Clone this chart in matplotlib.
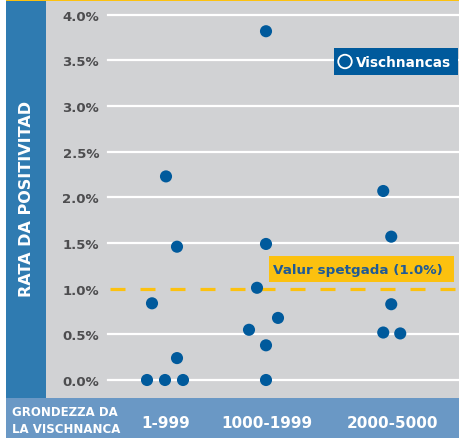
import matplotlib
matplotlib.use("Agg")
import matplotlib.pyplot as plt
from matplotlib.patches import Rectangle

plt.rcParams['font.family'] = ['DejaVu Sans']
plt.rcParams['lines.scale_dashes'] = False

# ---- data ----
categories = ["1-999", "1000-1999", "2000-5000"]
values_g1 = [0.0, 0.0, 0.0, 0.24, 0.84, 1.46, 2.23]
values_g2 = [0.0, 0.38, 0.55, 0.68, 1.01, 1.49, 3.82]
values_g3 = [0.51, 0.52, 0.83, 1.57, 2.07]
threshold = 1.0
ytick_values = [0.0, 0.5, 1.0, 1.5, 2.0, 2.5, 3.0, 3.5, 4.0]
ytick_labels = ["0.0%", "0.5%", "1.0%", "1.5%", "2.0%", "2.5%", "3.0%", "3.5%", "4.0%"]
y_title = "RATA DA POSITIVITAD"
x_title = "GRONDEZZA DA\nLA VISCHNANCA"
legend_label = "Vischnancas"
threshold_label = "Valur spetgada (1.0%)"

# ---- layout (beeswarm offsets in pixels) ----
cat_pos = [0.0, 1.0, 2.24]
unit_px = 101.0
jit_g1 = [-19, -1, 17, 11, -14, 11, 0]
jit_g2 = [-1, -1, -18, 11, -10, -1, -1]
jit_g3 = [8, -9, -1, -1, -9]

W, H = 463, 439
fig = plt.figure(figsize=(W / 100, H / 100), dpi=100)
fig.patch.set_facecolor("white")

def fx(x):
    return x / W

def fy(y):
    return 1 - y / H

GRAY = "#d1d2d4"
DOT = "#005a9c"
YEL = "#fcc10f"
LEFTBLUE = "#2f7bb1"
BOTBLUE = "#6a98c5"

# background bands (below axes)
fig.add_artist(Rectangle((fx(6), fy(399)), fx(459) - fx(6), fy(0) - fy(399),
                         transform=fig.transFigure, facecolor=GRAY, edgecolor="none", zorder=0))
fig.add_artist(Rectangle((fx(6), fy(399)), fx(46) - fx(6), fy(0) - fy(399),
                         transform=fig.transFigure, facecolor=LEFTBLUE, edgecolor="none", zorder=0.5))
fig.add_artist(Rectangle((fx(6), fy(439)), fx(459) - fx(6), fy(399) - fy(439),
                         transform=fig.transFigure, facecolor=BOTBLUE, edgecolor="none", zorder=0.5))

ax = fig.add_axes([fx(46), fy(399), fx(459) - fx(46), fy(1) - fy(399)])
ax.set_zorder(2)
ax.set_facecolor("none")
for s in ax.spines.values():
    s.set_visible(False)

# top yellow rule
fig.add_artist(Rectangle((fx(6), fy(2)), fx(459) - fx(6), fy(0) - fy(2),
                         transform=fig.transFigure, facecolor=YEL, edgecolor="none", zorder=3))

px_per_pct = 91.3
ax.set_ylim(-(399 - 381) / px_per_pct, (381 - 1) / px_per_pct)
ax.set_xlim((46 - 166) / unit_px, (459 - 166) / unit_px)

# gridlines
gx0 = (108 - 46) / (459 - 46)
gx1 = (458 - 46) / (459 - 46)
for v in ytick_values:
    if v == threshold:
        continue
    ax.axhline(v, xmin=gx0, xmax=gx1, color="white", lw=1.6, zorder=1)

# threshold dashed line
x_start = (110 - 166) / unit_px
x_end = (458 - 166) / unit_px
ax.plot([x_start, x_end], [threshold, threshold], color=YEL, lw=2.3,
        dashes=(10.8, 10.8), solid_capstyle="butt", dash_capstyle="butt", zorder=2)

# points
for pos, vals, jit in zip(cat_pos, [values_g1, values_g2, values_g3], [jit_g1, jit_g2, jit_g3]):
    xs = [pos + j / unit_px for j in jit]
    ax.scatter(xs, vals, s=76, color=DOT, edgecolors="none", zorder=4)

# ticks
ax.set_yticks(ytick_values)
ax.set_yticklabels(ytick_labels)
ax.tick_params(axis="y", length=0, pad=-38.2, labelsize=9.5, labelcolor="#4d4d4f")
for t in ax.get_yticklabels():
    t.set_fontweight("bold")
    t.set_horizontalalignment("right")

ax.set_xticks(cat_pos)
ax.set_xticklabels(categories)
ax.tick_params(axis="x", length=0, pad=12.5, labelsize=11, labelcolor="white")
for t in ax.get_xticklabels():
    t.set_fontweight("bold")

# titles
fig.text(fx(26.5), fy(199), y_title, rotation=90, ha="center", va="center",
         color="white", fontsize=11.5, fontweight="bold", zorder=5)
fig.text(fx(12), fy(421), x_title, ha="left", va="center", color="white",
         fontsize=8.5, fontweight="bold", linespacing=1.35, zorder=5)

# legend box
ax.add_patch(Rectangle((fx(334), fy(76)), fx(458) - fx(334), fy(49) - fy(76),
                       transform=fig.transFigure, facecolor=DOT, edgecolor="none",
                       zorder=5, clip_on=False))
ax.scatter([(345 - 166) / unit_px], [(381 - 62.5) / px_per_pct], s=95, facecolors="none",
           edgecolors="white", linewidths=1.3, zorder=6, clip_on=False)
ax.text(fx(356), fy(63), legend_label, transform=fig.transFigure, ha="left", va="center",
        color="white", fontsize=9.8, fontweight="bold", zorder=6)

# threshold label
ax.add_patch(Rectangle((fx(269), fy(283)), fx(454) - fx(269), fy(257) - fy(283),
                       transform=fig.transFigure, facecolor=YEL, edgecolor="none",
                       zorder=5, clip_on=False))
ax.text(fx(273), fy(270.5), threshold_label, transform=fig.transFigure, ha="left",
        va="center", color="#1f5a96", fontsize=9.7, fontweight="bold", zorder=6)

fig.savefig("out.png", dpi=100, facecolor="white")
